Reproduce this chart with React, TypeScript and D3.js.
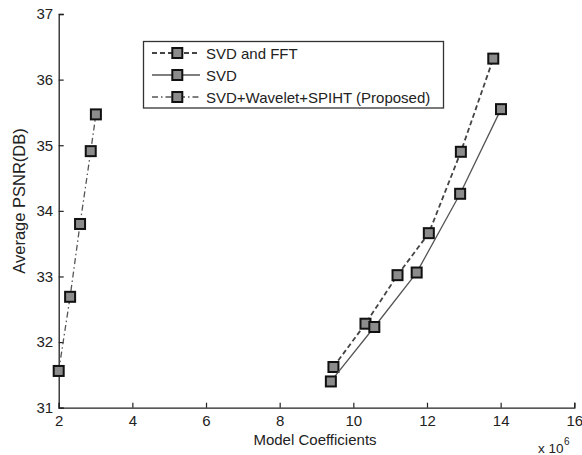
import React, { useEffect, useRef } from 'react';
import * as d3 from 'd3';

// x values in units of 10^6 coefficients
const fftX = [9.46, 10.33, 11.2, 12.05, 12.92, 13.8];
const fftY = [31.62, 32.28, 33.02, 33.66, 34.9, 36.32];
const svdX = [9.39, 10.57, 11.72, 12.9, 14.01];
const svdY = [31.4, 32.23, 33.06, 34.26, 35.55];
const propX = [2.0, 2.31, 2.58, 2.87, 3.01];
const propY = [31.56, 32.69, 33.8, 34.91, 35.47];
const xTicks = [2, 4, 6, 8, 10, 12, 14, 16];
const yTicks = [31, 32, 33, 34, 35, 36, 37];
const seriesNames = ['SVD and FFT', 'SVD', 'SVD+Wavelet+SPIHT (Proposed)'];
const dashes = ['5,3', null, '6,3,1.5,3'];

const W = 582, H = 455;

export default function App() {
  const ref = useRef<SVGSVGElement>(null);

  useEffect(() => {
    const svg = d3.select(ref.current);
    svg.selectAll('*').remove();

    const x = d3.scaleLinear().domain([2, 16]).range([58.7, 574.3]);
    const y = d3.scaleLinear().domain([31, 37]).range([407.7, 14]);
    const font = 'Arial, "Liberation Sans", sans-serif';

    const g = svg.append('g');

    // axes (left and bottom only, ticks inward)
    const xAxis = g.append('g').attr('transform', `translate(0,${y(31)})`)
      .call(d3.axisBottom(x).tickValues(xTicks).tickSize(-5).tickPadding(8).tickFormat(d3.format('d')));
    const yAxis = g.append('g').attr('transform', `translate(${x(2)},0)`)
      .call(d3.axisLeft(y).tickValues(yTicks).tickSize(-5).tickPadding(5.5).tickFormat(d3.format('d')));
    [xAxis, yAxis].forEach(a => {
      a.select('.domain').attr('stroke', '#222').attr('stroke-width', 1.3);
      a.selectAll('.tick line').attr('stroke', '#222').attr('stroke-width', 1.2);
      a.selectAll('.tick text').attr('font-family', font).attr('font-size', 15).attr('fill', '#222');
    });

    const series = [
      { xs: fftX, ys: fftY },
      { xs: svdX, ys: svdY },
      { xs: propX, ys: propY },
    ];
    const lineColors = ['#444', '#555', '#555'];
    const line = d3.line<[number, number]>().x(d => x(d[0])).y(d => y(d[1]));

    series.forEach((s, i) => {
      const pts: [number, number][] = s.xs.map((v, j) => [v, s.ys[j]]);
      g.append('path').attr('d', line(pts)).attr('fill', 'none')
        .attr('stroke', lineColors[i]).attr('stroke-width', i === 0 ? 1.8 : 1.3)
        .attr('stroke-dasharray', dashes[i]);
      g.selectAll(null).data(pts).enter().append('rect')
        .attr('x', d => x(d[0]) - 5).attr('y', d => y(d[1]) - 5)
        .attr('width', 10).attr('height', 10)
        .attr('fill', '#8c8c8c').attr('stroke', '#111').attr('stroke-width', 2);
    });

    // legend
    const lg = g.append('g');
    lg.append('rect').attr('x', 143.5).attr('y', 41.5).attr('width', 300).attr('height', 66.5)
      .attr('fill', '#fff').attr('stroke', '#333').attr('stroke-width', 1.3);
    seriesNames.forEach((name, i) => {
      const ly = 53 + i * 22;
      lg.append('line').attr('x1', 152).attr('x2', 200).attr('y1', ly).attr('y2', ly)
        .attr('stroke', lineColors[i]).attr('stroke-width', i === 0 ? 1.8 : 1.3)
        .attr('stroke-dasharray', dashes[i]);
      lg.append('rect').attr('x', 172.3).attr('y', ly - 5).attr('width', 10).attr('height', 10)
        .attr('fill', '#8c8c8c').attr('stroke', '#111').attr('stroke-width', 2);
      lg.append('text').attr('x', 206).attr('y', ly + 5.5).text(name)
        .attr('font-family', font).attr('font-size', 15).attr('fill', '#222');
    });

    // axis labels
    g.append('text').attr('x', 315).attr('y', 445).attr('text-anchor', 'middle')
      .attr('font-family', font).attr('font-size', 15).attr('fill', '#222').text('Model Coefficients');
    g.append('text').attr('transform', 'translate(25,201) rotate(-90)').attr('text-anchor', 'middle')
      .attr('font-family', font).attr('font-size', 16.5).attr('fill', '#222').text('Average PSNR(DB)');
    const sc = g.append('text').attr('x', 538).attr('y', 453)
      .attr('font-family', font).attr('font-size', 13.5).attr('fill', '#222');
    sc.append('tspan').text('x 10');
    sc.append('tspan').attr('dx', 0.5).attr('dy', -8).attr('font-size', 10).text('6');
  }, []);

  return (
    <svg ref={ref} width={W} height={H}
      style={{ position: 'absolute', left: 0, top: 0, background: '#fff', display: 'block' }} />
  );
}
